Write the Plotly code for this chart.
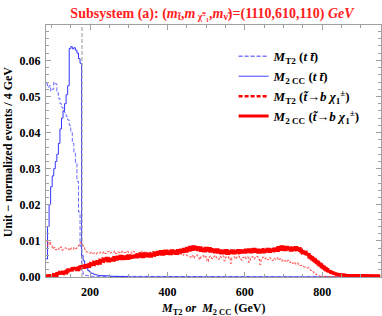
import plotly.graph_objects as go

# ---------------- data ----------------
bin_start = 86      # GeV, lower edge of first bin
bin_width = 4       # GeV

# M_T2 (t tbar)  -- blue dashed
mt2_tt = [0.0535, 0.0525, 0.0530, 0.0515, 0.0520, 0.0540, 0.0535, 0.0510, 0.0495, 0.0480,
          0.0470, 0.0460, 0.0455, 0.0445, 0.0435, 0.0420, 0.0400, 0.0370, 0.0345, 0.0315,
          0.0265, 0.0180, 0.0085, 0.0015, 0.0008, 0.0005, 0.0004, 0.0003, 0.0002, 0.0002,
          0.0001, 0.0001, 0.0000]

# M_2CC (t tbar)  -- blue solid
m2cc_tt = [0.0050, 0.0140, 0.0200, 0.0250, 0.0280, 0.0300, 0.0320, 0.0340, 0.0370, 0.0410,
           0.0440, 0.0460, 0.0480, 0.0505, 0.0530, 0.0633, 0.0638, 0.0632, 0.0635, 0.0628,
           0.0620, 0.0605, 0.0592, 0.0060, 0.0045, 0.0034, 0.0025, 0.0018, 0.0014, 0.0011,
           0.0009, 0.0007, 0.0006, 0.0005, 0.0004, 0.0005, 0.0004, 0.0003, 0.0004, 0.0003,
           0.0003, 0.0002, 0.0003, 0.0002, 0.0002, 0.0003, 0.0002, 0.0001, 0.0002, 0.0001,
           0.0001, 0.0002, 0.0001, 0.0001, 0.0000]

# M_T2 (stop -> b chargino)  -- red dashed
mt2_st = [0.0100, 0.0085, 0.0098, 0.0088,
          0.0078, 0.0082, 0.0075, 0.0080, 0.0077, 0.0083, 0.0074, 0.0079, 0.0081, 0.0076,
          0.0078, 0.0074, 0.0080, 0.0077, 0.0082, 0.0079, 0.0085, 0.0088,
          0.0095, 0.0090, 0.0083, 0.0076,
          0.0070, 0.0068, 0.0066, 0.0069, 0.0065, 0.0067, 0.0064, 0.0068, 0.0066, 0.0069,
          0.0066, 0.0070, 0.0065, 0.0068, 0.0071, 0.0066, 0.0069, 0.0067, 0.0072, 0.0065,
          0.0070, 0.0068, 0.0066, 0.0071, 0.0067, 0.0069, 0.0072, 0.0068,
          0.0070, 0.0066, 0.0071, 0.0068, 0.0064, 0.0069, 0.0067, 0.0072, 0.0065, 0.0068,
          0.0070, 0.0066, 0.0063, 0.0069, 0.0067, 0.0071, 0.0064, 0.0068, 0.0066, 0.0062,
          0.0069, 0.0065, 0.0067, 0.0070, 0.0063, 0.0066, 0.0068, 0.0064, 0.0061, 0.0067,
          0.0065, 0.0062, 0.0066, 0.0063, 0.0060, 0.0064, 0.0062, 0.0059,
          0.0058, 0.0055, 0.0060, 0.0052, 0.0057, 0.0061, 0.0054, 0.0048, 0.0056, 0.0059,
          0.0053, 0.0057, 0.0042, 0.0055, 0.0058, 0.0051, 0.0056, 0.0060, 0.0053, 0.0049,
          0.0057, 0.0054, 0.0058, 0.0045, 0.0055, 0.0052, 0.0057, 0.0038, 0.0054, 0.0056,
          0.0050, 0.0055, 0.0058, 0.0052, 0.0047, 0.0054, 0.0057, 0.0051, 0.0055, 0.0040,
          0.0053, 0.0056, 0.0050, 0.0054, 0.0057, 0.0049, 0.0035, 0.0052, 0.0055, 0.0050,
          0.0053, 0.0048, 0.0054, 0.0051, 0.0046, 0.0052, 0.0049, 0.0053, 0.0047, 0.0050,
          0.0044, 0.0048,
          0.0045, 0.0042, 0.0046, 0.0040, 0.0043, 0.0038, 0.0041, 0.0036, 0.0039, 0.0034,
          0.0031, 0.0033, 0.0029,
          0.0027, 0.0024, 0.0026, 0.0021, 0.0018, 0.0015, 0.0011,
          0.0008, 0.0005, 0.0003, 0.0002, 0.0001, 0.0001, 0.0000]

# M_2CC (stop -> b chargino)  -- red solid
m2cc_st = [0.0003, 0.0004, 0.0003, 0.0005, 0.0004, 0.0006, 0.0005,
           0.0009, 0.0011, 0.0012, 0.0010, 0.0013, 0.0012, 0.0015,
           0.0019, 0.0021, 0.0020, 0.0023, 0.0022, 0.0024, 0.0021, 0.0025,
           0.0028, 0.0030, 0.0027, 0.0031, 0.0033, 0.0030, 0.0034,
           0.0037, 0.0035, 0.0040, 0.0038, 0.0042, 0.0039,
           0.0046, 0.0044, 0.0049, 0.0047, 0.0051, 0.0045, 0.0048, 0.0050, 0.0047,
           0.0053, 0.0050, 0.0055, 0.0052, 0.0057, 0.0051, 0.0054, 0.0056, 0.0052, 0.0058,
           0.0053, 0.0055, 0.0057,
           0.0059, 0.0056, 0.0061, 0.0058, 0.0063, 0.0057, 0.0060, 0.0064, 0.0059, 0.0062,
           0.0058, 0.0063, 0.0061,
           0.0066, 0.0063, 0.0068, 0.0065, 0.0070, 0.0064, 0.0067, 0.0071, 0.0066, 0.0069,
           0.0065, 0.0072, 0.0068, 0.0070, 0.0066, 0.0073, 0.0069,
           0.0074, 0.0071, 0.0076, 0.0072, 0.0079, 0.0075, 0.0082, 0.0077, 0.0083, 0.0078,
           0.0081, 0.0076, 0.0080, 0.0074,
           0.0077, 0.0073, 0.0079, 0.0075, 0.0078, 0.0072, 0.0076, 0.0074, 0.0070, 0.0075,
           0.0069, 0.0072, 0.0067, 0.0071, 0.0068, 0.0073, 0.0066, 0.0070, 0.0068, 0.0072,
           0.0067, 0.0071, 0.0069, 0.0073, 0.0068, 0.0070,
           0.0072, 0.0069, 0.0074, 0.0071, 0.0075, 0.0070, 0.0073, 0.0076, 0.0071, 0.0074,
           0.0069, 0.0073, 0.0075, 0.0070, 0.0074, 0.0072, 0.0076, 0.0071, 0.0075, 0.0073,
           0.0077,
           0.0078, 0.0074, 0.0081, 0.0077, 0.0083, 0.0079, 0.0076, 0.0082, 0.0078, 0.0080,
           0.0075, 0.0079, 0.0077, 0.0081, 0.0076, 0.0078, 0.0074,
           0.0070, 0.0067, 0.0068, 0.0064, 0.0062,
           0.0056, 0.0053, 0.0050, 0.0047,
           0.0043, 0.0040, 0.0036, 0.0033,
           0.0029, 0.0026, 0.0023, 0.0020,
           0.0017, 0.0015, 0.0013, 0.0011, 0.0010,
           0.0008, 0.0007, 0.0006, 0.0006, 0.0005, 0.0005,
           0.0004, 0.0005, 0.0003, 0.0004, 0.0004, 0.0003, 0.0005, 0.0004, 0.0003, 0.0004,
           0.0003, 0.0004, 0.0005, 0.0003, 0.0004, 0.0003, 0.0004, 0.0003, 0.0004, 0.0004,
           0.0003, 0.0004, 0.0003]

top_mass_line = 179   # GeV, grey dashed reference line

legend_names = [
    "<b><i>M</i><sub>T2</sub> (<i>t t̄</i>)</b>",
    "<b><i>M</i><sub>2 CC</sub> (<i>t t̄</i>)</b>",
    "<b><i>M</i><sub>T2</sub> (<i>t̃→b χ</i><sub>1</sub><sup>±</sup>)</b>",
    "<b><i>M</i><sub>2 CC</sub> (<i>t̃→b χ</i><sub>1</sub><sup>±</sup>)</b>",
]

n_bins = len(m2cc_st)


def step_xy(vals):
    v = list(vals) + [0.0] * (n_bins - len(vals))
    xs, ys = [], []
    for i, val in enumerate(v):
        lo = bin_start + bin_width * i
        xs += [lo, lo + bin_width]
        ys += [val, val]
    return xs, ys


series = [
    (mt2_tt, dict(color="#6a6aff", width=1, dash="4px,2px"), dict(color="#7a7aff", width=1.5, dash="4px,2px")),
    (m2cc_tt, dict(color="#3333ff", width=1), dict(color="#4444ff", width=1)),
    (mt2_st, dict(color="rgba(255,50,50,0.85)", width=1, dash="3px,2px"), dict(color="#ff0000", width=2.5, dash="4px,2px")),
    (m2cc_st, dict(color="#ff0000", width=3.5), dict(color="#ff0000", width=3)),
]

fig = go.Figure()
for vals, line, _ in series:
    xs, ys = step_xy(vals)
    fig.add_trace(go.Scatter(x=xs, y=ys, mode="lines", line=line, showlegend=False,
                             hoverinfo="skip"))
for (vals, _, lline), name in zip(series, legend_names):
    fig.add_trace(go.Scatter(x=[None], y=[None], mode="lines", line=lline, name=name))

fig.add_shape(type="line", x0=top_mass_line, x1=top_mass_line, y0=0, y1=1,
              xref="x", yref="paper", line=dict(color="#999999", width=1, dash="4px,2px"))

serif = "Liberation Serif"
axis_common = dict(
    showgrid=False, zeroline=False, showline=True, linecolor="#a0a0a0", linewidth=1,
    mirror="allticks", ticks="inside", ticklen=5, tickcolor="#a0a0a0",
    tickfont=dict(family=serif, size=12, color="black"), automargin=False,
)
fig.update_xaxes(range=[86, 952], tick0=0, dtick=200,
                 tickprefix="<b>", ticksuffix="</b>", ticklabelstandoff=4,
                 minor=dict(dtick=50, ticks="inside", ticklen=3, tickcolor="#a0a0a0"),
                 **axis_common)
fig.update_yaxes(range=[0, 0.0698], tick0=0, dtick=0.01, tickformat=".2f",
                 tickprefix="<b>", ticksuffix="</b>", ticklabelstandoff=2,
                 minor=dict(dtick=0.002, ticks="inside", ticklen=3, tickcolor="#a0a0a0"),
                 **axis_common)

fig.add_annotation(text="<b><i>M</i><sub>T2</sub> <i>or</i>  <i>M</i><sub>2 CC</sub> (GeV)</b>",
                   xref="paper", yref="paper", x=0.5, y=-0.127, xanchor="center", yanchor="middle",
                   showarrow=False, font=dict(family=serif, size=12, color="black"))
fig.add_annotation(text="<b>Unit − normalized events / 4 GeV</b>",
                   xref="paper", yref="paper", x=-0.113, y=0.496, xanchor="center", yanchor="middle",
                   textangle=-90, showarrow=False, font=dict(family=serif, size=12, color="black"))

fig.update_layout(
    width=382, height=316,
    margin=dict(l=46, r=1, t=25, b=39),
    paper_bgcolor="white", plot_bgcolor="white",
    title=dict(text="<b>Subsystem (a): (<i>m</i><sub>t̃</sub>,<i>m</i><sub> χ̃<sup>±</sup>₁</sub>,<i>m</i><sub>ν̃</sub>)=(1110,610,110) <i>GeV</i></b>",
               font=dict(family=serif, size=14, color="#ff2020"),
               x=0.555, xanchor="center", y=0.96, yanchor="middle", automargin=False),
    legend=dict(x=0.56, y=0.935, xanchor="left", yanchor="top", bgcolor="rgba(0,0,0,0)",
                font=dict(family=serif, size=13, color="black"), tracegroupgap=0,
                itemwidth=30),
)

fig.write_html("out.html", config={"displayModeBar": False},
               post_script="document.body.style.margin='0';document.body.style.padding='0';")
